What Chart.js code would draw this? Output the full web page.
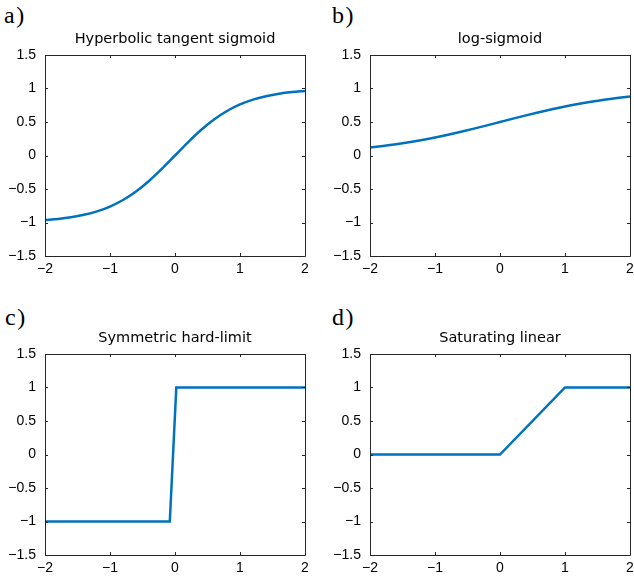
<!DOCTYPE html>
<html>
<head>
<meta charset="utf-8">
<script src="https://cdn.jsdelivr.net/npm/chart.js@4.4.0/dist/chart.umd.min.js"></script>
<style>
  html, body { margin: 0; padding: 0; background: #fff; overflow: hidden; }
  #page { position: relative; width: 634px; height: 579px; }
  .box { position: absolute; width: 350px; height: 249px; }
  .lbl { position: absolute; font-family: "Liberation Serif", "DejaVu Serif", serif; font-size: 24px; letter-spacing: 1.5px; color: #000; line-height: normal; }
</style>
</head>
<body>
<div id="page">
  <div class="lbl" style="left:4px;top:2px">a)</div>
  <div class="lbl" style="left:332px;top:2px">b)</div>
  <div class="lbl" style="left:5px;top:304px">c)</div>
  <div class="lbl" style="left:332px;top:304px">d)</div>
  <div class="box" style="left:0px;top:31px"><canvas id="tansig"></canvas></div>
  <div class="box" style="left:325px;top:31px"><canvas id="logsig"></canvas></div>
  <div class="box" style="left:0px;top:330px"><canvas id="hardlims"></canvas></div>
  <div class="box" style="left:325px;top:330px"><canvas id="satlin"></canvas></div>
</div>
<script>
// tick labels
const xTicks = [-2, -1, 0, 1, 2];
const yTicks = [-1.5, -1, -0.5, 0, 0.5, 1, 1.5];

// sample points
const xSmooth = [-2, -1.8, -1.6, -1.4, -1.2, -1, -0.8, -0.6, -0.4, -0.2, 0,
                 0.2, 0.4, 0.6, 0.8, 1, 1.2, 1.4, 1.6, 1.8, 2];
const tansigY = [-0.964, -0.947, -0.922, -0.885, -0.834, -0.762, -0.664, -0.537, -0.380, -0.197, 0,
                 0.197, 0.380, 0.537, 0.664, 0.762, 0.834, 0.885, 0.922, 0.947, 0.964];
const logsigY = [0.119, 0.142, 0.168, 0.198, 0.232, 0.269, 0.310, 0.354, 0.401, 0.450, 0.5,
                 0.550, 0.599, 0.646, 0.690, 0.731, 0.769, 0.802, 0.832, 0.858, 0.881];

const hardlimsX = [-2, -0.08, 0.02, 2];
const hardlimsY = [-1, -1, 1, 1];

const satlinX = [-2, 0, 1, 2];
const satlinY = [0, 0, 1, 1];

const lineColor = '#0072BD';
const axisColor = '#262626';
const tickFont = '"Liberation Sans", Arial, sans-serif';
const titleFont = '"DejaVu Sans", Verdana, sans-serif';

// draw the box round the axes and the inward tick marks on all four sides
const boxTicks = {
  id: 'boxTicks',
  afterDatasetsDraw(chart) {
    const ctx = chart.ctx, a = chart.chartArea;
    const xs = chart.scales.x, ys = chart.scales.y;
    const len = 3;
    ctx.save();
    ctx.strokeStyle = axisColor;
    ctx.lineWidth = 1;
    ctx.beginPath();
    ctx.rect(Math.round(a.left) + 0.5, Math.round(a.top) + 0.5,
             Math.round(a.right - a.left), Math.round(a.bottom - a.top));
    xTicks.forEach(v => {
      const px = Math.round(xs.getPixelForValue(v)) + 0.5;
      ctx.moveTo(px, a.bottom); ctx.lineTo(px, a.bottom - len);
      ctx.moveTo(px, a.top); ctx.lineTo(px, a.top + len);
    });
    yTicks.forEach(v => {
      const py = Math.round(ys.getPixelForValue(v)) + 0.5;
      ctx.moveTo(a.left, py); ctx.lineTo(a.left + len, py);
      ctx.moveTo(a.right, py); ctx.lineTo(a.right - len, py);
    });
    ctx.stroke();
    ctx.restore();
  }
};

function fmt(v) {
  return String(v).replace('-', '\u2212');
}

function makeChart(id, title, xs, ys, smooth) {
  const pts = xs.map((x, i) => ({ x: x, y: ys[i] }));
  return new Chart(document.getElementById(id), {
    type: 'line',
    data: {
      datasets: [{
        data: pts,
        borderColor: lineColor,
        borderWidth: 2.5,
        pointRadius: 0,
        fill: false,
        cubicInterpolationMode: smooth ? 'monotone' : 'default',
        tension: 0
      }]
    },
    options: {
      responsive: true,
      maintainAspectRatio: false,
      animation: false,
      layout: { padding: 0 },
      plugins: {
        legend: { display: false },
        tooltip: { enabled: false },
        title: {
          display: true,
          text: title,
          color: '#000',
          font: { family: titleFont, size: 14.5, weight: 'normal', lineHeight: 1.2 },
          padding: { top: 0, bottom: 6.6 }
        }
      },
      scales: {
        x: {
          type: 'linear',
          min: -2, max: 2,
          grid: { display: false, drawTicks: false },
          border: { display: false },
          afterBuildTicks: s => { s.ticks = xTicks.map(v => ({ value: v })); },
          afterFit: s => { s.height = 24; },
          ticks: {
            color: '#000',
            padding: 5,
            maxRotation: 0,
            font: { family: tickFont, size: 14 },
            callback: v => fmt(v)
          }
        },
        y: {
          min: -1.5, max: 1.5,
          grid: { display: false, drawTicks: false },
          border: { display: false },
          afterBuildTicks: s => { s.ticks = yTicks.map(v => ({ value: v })); },
          afterFit: s => { s.width = 45; },
          ticks: {
            color: '#000',
            padding: 9,
            font: { family: tickFont, size: 14 },
            callback: v => fmt(v)
          }
        },
        // empty right-hand axis: same width as the left one, keeps the title centred
        yPad: {
          position: 'right',
          min: -1.5, max: 1.5,
          grid: { display: false, drawTicks: false },
          border: { display: false },
          ticks: { display: false },
          afterFit: s => { s.width = 45; }
        }
      }
    },
    plugins: [boxTicks]
  });
}

makeChart('tansig', 'Hyperbolic tangent sigmoid', xSmooth, tansigY, true);
makeChart('logsig', 'log-sigmoid', xSmooth, logsigY, true);
makeChart('hardlims', 'Symmetric hard-limit', hardlimsX, hardlimsY, false);
makeChart('satlin', 'Saturating linear', satlinX, satlinY, false);
</script>
</body>
</html>
